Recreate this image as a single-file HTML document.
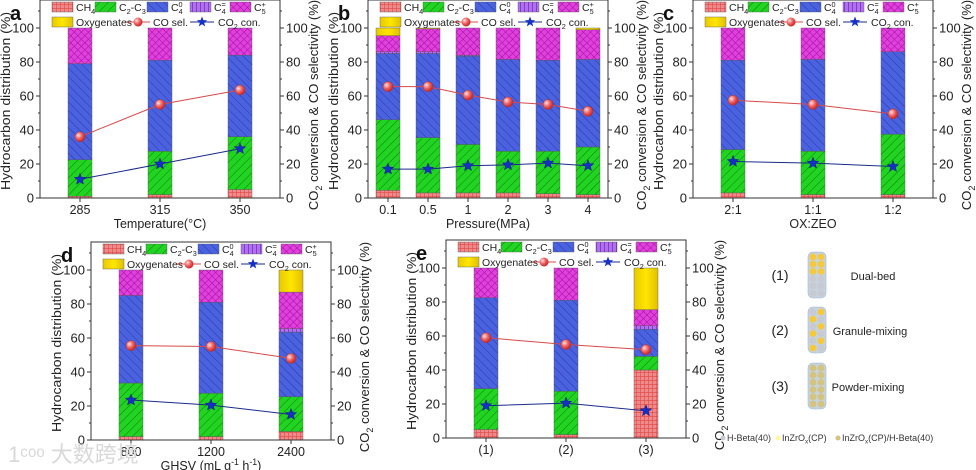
<!DOCTYPE html>
<html><head><meta charset="utf-8"><style>
html,body{margin:0;padding:0;background:#fff}
svg{display:block;font-family:"Liberation Sans",Arial,sans-serif}
</style></head><body>
<svg id="fig" width="976" height="470" viewBox="0 0 976 470" xmlns="http://www.w3.org/2000/svg">
<defs>
 <pattern id="pCH4" width="4" height="4" patternUnits="userSpaceOnUse"><rect width="4" height="4" fill="#f08a8a"/><path d="M0 0H4M0 0V4" stroke="#e04848" stroke-width="1.2"/></pattern>
 <pattern id="pC2" width="6" height="6" patternUnits="userSpaceOnUse" patternTransform="rotate(45)"><rect width="6" height="6" fill="#22d422"/><path d="M0 0V6" stroke="#0d7a0d" stroke-width="1"/></pattern>
 <pattern id="pC4" width="6" height="6" patternUnits="userSpaceOnUse" patternTransform="rotate(-45)"><rect width="6" height="6" fill="#4a62e0"/><path d="M0 0V6" stroke="#2a3aa0" stroke-width="1"/></pattern>
 <pattern id="pC4e" width="4" height="4" patternUnits="userSpaceOnUse"><rect width="4" height="4" fill="#b070f0"/><path d="M0 0V4" stroke="#6a20b0" stroke-width="1.3"/></pattern>
 <pattern id="pC5" width="5" height="5" patternUnits="userSpaceOnUse" patternTransform="rotate(45)"><rect width="5" height="5" fill="#e040e0"/><path d="M0 0H5M0 0V5" stroke="#a01090" stroke-width="1"/></pattern>
 <linearGradient id="gOxy" x1="0" y1="0" x2="1" y2="0"><stop offset="0" stop-color="#e8c800"/><stop offset="0.5" stop-color="#ffe600"/><stop offset="1" stop-color="#e0c000"/></linearGradient>
 <radialGradient id="gBall" cx="0.35" cy="0.35" r="0.7"><stop offset="0" stop-color="#ffe0e0"/><stop offset="0.5" stop-color="#f06060"/><stop offset="1" stop-color="#c02020"/></radialGradient>
</defs>
</svg>
<script>
// ---------- data ----------
const aCats=["285","315","350"];
const aCH4=[1,2,5];
const aC2C3=[21.5,25.5,31];
const aC40=[56.5,53.5,48];
const aC4e=[0,0,0];
const aC5=[21,19,16];
const aOxy=[0,0,0];
const aCOsel=[36,55,63.5];
const aCO2con=[11,20,29];

const bCats=["0.1","0.5","1","2","3","4"];
const bCH4=[4.5,3,3,3,2.5,2];
const bC2C3=[41.5,32.5,28.5,24.5,25,28];
const bC40=[39,49.5,52,54,53.5,51.5];
const bC4e=[1,1,0.5,0,0,0];
const bC5=[9.5,13.5,16,18.5,19,17.5];
const bOxy=[4.5,0.5,0,0,0,1];
const bCOsel=[65.5,65.5,60.5,56.5,55,51];
const bCO2con=[17,17,19,19.5,20.5,19];

const cCats=["2:1","1:1","1:2"];
const cCH4=[3,2,2];
const cC2C3=[25.5,25.5,35.5];
const cC40=[52.5,54,48.5];
const cC4e=[0,0,0];
const cC5=[19,18.5,14];
const cOxy=[0,0,0];
const cCOsel=[57.5,55,49.5];
const cCO2con=[21.5,20.5,18.5];

const dCats=["800","1200","2400"];
const dCH4=[2,2,5];
const dC2C3=[31.5,25.5,20.5];
const dC40=[51.5,53.5,38];
const dC4e=[0,0,2];
const dC5=[15,19,21.5];
const dOxy=[0,0,13];
const dCOsel=[55.5,55,48];
const dCO2con=[23.5,20.5,15];

const eCats=["(1)","(2)","(3)"];
const eCH4=[5,2,40];
const eC2C3=[24,25.5,8];
const eC40=[53.5,53.5,16];
const eC4e=[0,0,2];
const eC5=[17.5,19,9.5];
const eOxy=[0,0,24.5];
const eCOsel=[59,55,52];
const eCO2con=[19,20.5,16];

const yTicks=[0,20,40,60,80,100];

// ---------- drawing ----------
const NS="http://www.w3.org/2000/svg";
const svg=document.getElementById('fig');
function mk(tag,attrs,parent){const e=document.createElementNS(NS,tag);for(const k in attrs)e.setAttribute(k,attrs[k]);(parent||svg).appendChild(e);return e;}
function rich(t,parts){
  let off=0; const fs=parseFloat(t.getAttribute('font-size'))||12;
  const sh=fs*0.3;
  function add(txt,target,small,dx){
    const s=document.createElementNS(NS,'tspan');
    const dy=target-off; if(dy) s.setAttribute('dy',dy); off=target;
    if(small) s.setAttribute('font-size',(fs*0.7).toFixed(1));
    if(dx) s.setAttribute('dx',dx);
    s.textContent=txt; t.appendChild(s);
  }
  parts.forEach(p=>{
    if(typeof p==='string') add(p,0,false);
    else if(p[0]==='sub') add(p[1],sh,true);
    else if(p[0]==='sup') add(p[1],-fs*0.4,true);
    else if(p[0]==='subsup'){add(p[1],sh,true);add(p[2],-fs*0.4,true,-(fs*0.4).toFixed(1));}
  });
  if(off){const s=document.createElementNS(NS,'tspan');s.setAttribute('dy',-off);s.textContent='\u200b';t.appendChild(s);}
}
function star(cx,cy,r){let p=[];for(let i=0;i<10;i++){const rr=i%2?r*0.42:r;const a=-Math.PI/2+i*Math.PI/5;p.push((cx+rr*Math.cos(a)).toFixed(1)+','+(cy+rr*Math.sin(a)).toFixed(1));}return p.join(' ');}

const fills=['url(#pCH4)','url(#pC2)','url(#pC4)','url(#pC4e)','url(#pC5)','url(#gOxy)'];
const segNames=['ch4','c2-c3','c4-paraffin','c4-olefin','c5-plus','oxygenates'];

function panel(P){
  const W=240, x0=P.x0, y100=P.y100, y0=y100+170, top=y100-28, x1=x0+W;
  const yS=v=>y0-v*1.7;
  const n=P.cats.length;
  const xS=i=>x0+(i+0.5)*W/n;
  const g=mk('g',{});
  
  
  for(let i=0;i<n;i++){
    let acc=0;
    for(let s=0;s<6;s++){
      const v=P.series[s][i]; if(v<=0){continue;}
      const r=mk('rect',{x:xS(i)-12,y:yS(acc+v),width:24,height:v*1.7,fill:fills[s],stroke:'#555','stroke-width':0.4},g);
      
      
      acc+=v;
    }
  }
  const lr=P.cosel.map((v,i)=>xS(i)+','+yS(v)).join(' ');
  const l1=mk('polyline',{points:lr,fill:'none',stroke:'#d84a4a','stroke-width':1},g);
  
  
  P.cosel.forEach((v,i)=>{const c=mk('circle',{cx:xS(i),cy:yS(v),r:5,fill:'url(#gBall)',stroke:'#b03030','stroke-width':0.5},g);
    
    });
  const lb=P.co2.map((v,i)=>xS(i)+','+yS(v)).join(' ');
  const l2=mk('polyline',{points:lb,fill:'none',stroke:'#1a2a8a','stroke-width':1},g);
  
  
  P.co2.forEach((v,i)=>{const s=mk('polygon',{points:star(xS(i),yS(v),6),fill:'#1530c8',stroke:'#0a1a80','stroke-width':0.5},g);
    
    });
  const fr=mk('rect',{x:x0,y:top,width:W,height:y0-top,fill:'none',stroke:'#333','stroke-width':1},g);
  
  
  yTicks.forEach(t=>{
    mk('line',{x1:x0-4,x2:x0,y1:yS(t),y2:yS(t),stroke:'#333'},g);
    mk('line',{x1:x1,x2:x1+4,y1:yS(t),y2:yS(t),stroke:'#333'},g);
    if(t<100){mk('line',{x1:x0-2,x2:x0,y1:yS(t+10),y2:yS(t+10),stroke:'#333'},g);
      mk('line',{x1:x1,x2:x1+2,y1:yS(t+10),y2:yS(t+10),stroke:'#333'},g);}
    const tl=mk('text',{x:x0-6,y:yS(t)+4.5,'text-anchor':'end','font-size':13,fill:'#222'},g);tl.textContent=t;
    
    
    const tr=mk('text',{x:x1+6,y:yS(t)+4.5,'text-anchor':'start','font-size':13,fill:'#222'},g);tr.textContent=t;
    
    
  });
  mk('line',{x1:x0-2,x2:x0,y1:yS(110),y2:yS(110),stroke:'#333'},g);
  mk('line',{x1:x1,x2:x1+2,y1:yS(110),y2:yS(110),stroke:'#333'},g);
  P.cats.forEach((c,i)=>{
    mk('line',{x1:xS(i),x2:xS(i),y1:y0,y2:y0+4,stroke:'#333'},g);
    const t=mk('text',{x:xS(i),y:y0+16,'text-anchor':'middle','font-size':12.5,fill:'#222'},g);t.textContent=c;
    
    
  });
  const xt=mk('text',{x:x0+W/2,y:y0+30,'text-anchor':'middle','font-size':12.5,fill:'#222'},g);
  
  
  rich(xt,P.xtitle);
  const lt=mk('text',{x:0,y:0,'text-anchor':'middle','font-size':13,fill:'#222',transform:`translate(${x0-30},${(top+y0)/2+2}) rotate(-90)`,textLength:178,lengthAdjust:'spacingAndGlyphs'},g);
  lt.textContent='Hydrocarbon distribution (%)';
  
  
  const rt=mk('text',{x:0,y:0,'text-anchor':'middle','font-size':13,fill:'#222',transform:`translate(${x1+38},${(top+y0)/2+6}) rotate(-90)`},g);
  rich(rt,['CO',['sub','2'],' conversion & CO selectivity (%)']);
  
  
  const pl=mk('text',{x:x0-30,y:top+20,'font-size':20,'font-weight':'bold',fill:'#111'},g);pl.textContent=P.letter;
  
  
  // legend
  const lx=x0+12, r1=top+7, r2=top+22;
  const items=[[0,0,['CH',['sub','4']]],[1,43,['C',['sub','2'],'-C',['sub','3']]],[2,95,['C',['subsup','4','0']]],[3,138,['C',['subsup','4','=']]],[4,178,['C',['subsup','5','+']]]];
  items.forEach(it=>{
    const sw=mk('rect',{x:lx+it[1],y:r1-5,width:21,height:10,fill:fills[it[0]],stroke:'#555','stroke-width':0.4},g);
    
    
    const t=mk('text',{x:lx+it[1]+24,y:r1+4,'font-size':10.5,fill:'#222'},g);
    
    
    rich(t,it[2]);
  });
  const so=mk('rect',{x:lx,y:r2-5,width:21,height:10,fill:'url(#gOxy)',stroke:'#555','stroke-width':0.4},g);
  
  
  const to=mk('text',{x:lx+24,y:r2+4,'font-size':10.5,fill:'#222'},g);to.textContent='Oxygenates';
  
  
  mk('line',{x1:lx+74,x2:lx+98,y1:r2,y2:r2,stroke:'#d84a4a'},g);
  mk('circle',{cx:lx+86,cy:r2,r:4.5,fill:'url(#gBall)'},g);
  const tc=mk('text',{x:lx+101,y:r2+4,'font-size':10.5,fill:'#222'},g);tc.textContent='CO sel.';
  
  
  mk('line',{x1:lx+138,x2:lx+162,y1:r2,y2:r2,stroke:'#1a2a8a'},g);
  mk('polygon',{points:star(lx+150,r2,5.5),fill:'#1530c8'},g);
  const tq=mk('text',{x:lx+166,y:r2+4,'font-size':10.5,fill:'#222'},g);rich(tq,['CO',['sub','2'],' con.']);
  
  
}
panel({letter:'a',x0:40,y100:28,cats:aCats,series:[aCH4,aC2C3,aC40,aC4e,aC5,aOxy],cosel:aCOsel,co2:aCO2con,xtitle:['Temperature(°C)']});
panel({letter:'b',x0:368,y100:28,cats:bCats,series:[bCH4,bC2C3,bC40,bC4e,bC5,bOxy],cosel:bCOsel,co2:bCO2con,xtitle:['Pressure(MPa)']});
panel({letter:'c',x0:693,y100:28,cats:cCats,series:[cCH4,cC2C3,cC40,cC4e,cC5,cOxy],cosel:cCOsel,co2:cCO2con,xtitle:['OX:ZEO']});
panel({letter:'d',x0:91,y100:270,cats:dCats,series:[dCH4,dC2C3,dC40,dC4e,dC5,dOxy],cosel:dCOsel,co2:dCO2con,xtitle:['GHSV (mL g',['sup','-1'],' h',['sup','-1'],')']});
panel({letter:'e',x0:446,y100:268,cats:eCats,series:[eCH4,eC2C3,eC40,eC4e,eC5,eOxy],cosel:eCOsel,co2:eCO2con,xtitle:['']});

// ---------- reactor schematic ----------
const Y='#f5c93a', G='#c8cad2', T='#d4c47e';
const tubes=[
 {y:252,label:'(1)',name:'Dual-bed',nx:873,cols:[[Y,Y],[Y,Y],[Y,Y],[G,G],[G,G],[G,G]]},
 {y:307,label:'(2)',name:'Granule-mixing',nx:870,cols:[[G,Y],[Y,G],[G,Y],[Y,G],[G,Y],[Y,G]]},
 {y:363,label:'(3)',name:'Powder-mixing',nx:868,cols:[[T,T],[T,T],[T,T],[T,T],[T,T],[T,T]]}
];
tubes.forEach(tb=>{
  const g=mk('g',{});
  
  
  mk('rect',{x:808,y:tb.y,width:18,height:46,rx:5,fill:'#c5d3e0',stroke:'#a8b8c8','stroke-width':0.6},g);
  tb.cols.forEach((row,r)=>row.forEach((c,j)=>mk('circle',{cx:813+j*8,cy:tb.y+5+r*7.2,r:3.4,fill:c},g)));
  const l=mk('text',{x:780,y:tb.y+28,'text-anchor':'middle','font-size':14,fill:'#222'},g);l.textContent=tb.label;
  const n=mk('text',{x:tb.nx,y:tb.y+28,'text-anchor':'middle','font-size':11,fill:'#222'},g);n.textContent=tb.name;
});
const lgT=mk('g',{});


mk('circle',{cx:723,cy:438,r:2.5,fill:G},lgT);
let t1=mk('text',{x:727,y:441,'font-size':9,fill:'#333'},lgT);t1.textContent='H-Beta(40)';
mk('circle',{cx:778,cy:438,r:2.5,fill:'#fff6a0'},lgT);
let t2=mk('text',{x:782,y:441,'font-size':9,fill:'#333'},lgT);rich(t2,['InZrO',['sub','x'],'(CP)']);
mk('circle',{cx:838,cy:438,r:2.5,fill:T},lgT);
let t3=mk('text',{x:842,y:441,'font-size':9,fill:'#333'},lgT);rich(t3,['InZrO',['sub','x'],'(CP)/H-Beta(40)']);
const wm=mk('text',{x:8,y:462,'font-size':22,fill:'#d8d8d8','font-family':'"Liberation Sans","Noto Sans CJK SC",sans-serif'});
wm.textContent='1ᶜᵒᵒ 大数跨境';


</script>
</body></html>
